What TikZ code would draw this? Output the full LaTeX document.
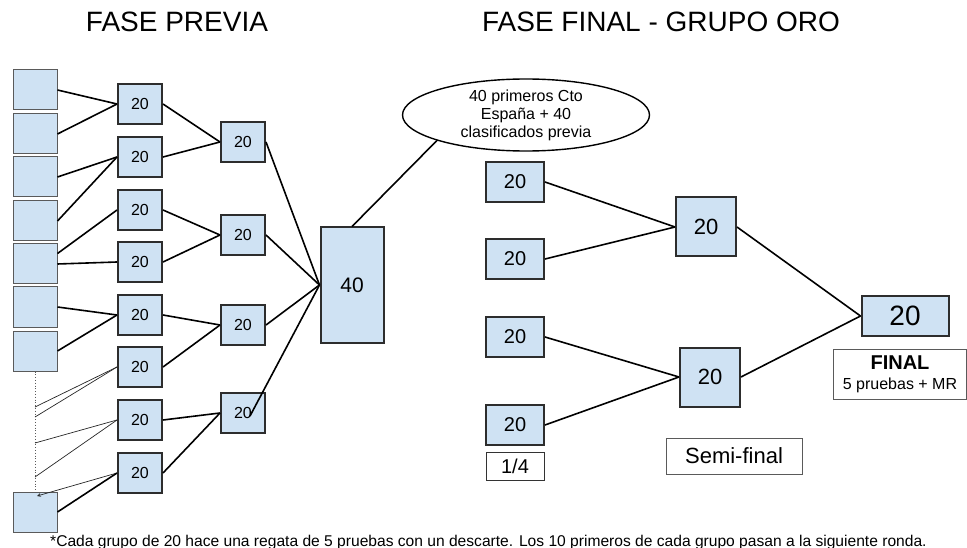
\documentclass[tikz,border=0pt]{standalone}
\usepackage{fontspec}
\setmainfont{Liberation Sans}
\usetikzlibrary{arrows, positioning, shapes.geometric}
\definecolor{myblue}{RGB}{207, 226, 243}
\definecolor{myline}{RGB}{45, 45, 45}
\definecolor{mygray}{RGB}{90, 90, 90}

\begin{document}
\begin{tikzpicture}[
    x=1pt, y=-1pt,
    seat/.style={rectangle, draw=mygray, fill=myblue, line width=1pt, minimum width=44pt, minimum height=40pt, inner sep=0pt},
    grp/.style={rectangle, draw=myline, fill=myblue, line width=2pt, minimum width=44pt, minimum height=40pt, inner sep=0pt, font=\fontsize{16}{16}\selectfont},
    quarter/.style={grp, minimum width=58pt, minimum height=40pt, font=\fontsize{20}{20}\selectfont},
    semi/.style={grp, minimum width=60pt, minimum height=59pt, font=\fontsize{22}{22}\selectfont},
    tag/.style={rectangle, draw=black!80, fill=white, line width=0.9pt, inner sep=0pt, text centered},
    conn/.style={line width=1.6pt, black},
    thin/.style={line width=0.7pt, black!85},
    title/.style={anchor=base, font=\fontsize{28}{28}\selectfont}
]
\useasboundingbox (0,0) rectangle (967,548);

% Titles
\node[title] (tprevia) at (177,32) {FASE PREVIA};
\node[title] (tfinal) at (661,32) {FASE FINAL - GRUPO ORO};

% Fase previa: entries
\node[seat] (l1) at (35,90) {};
\node[seat] (l2) at (35,134) {};
\node[seat] (l3) at (35,177) {};
\node[seat] (l4) at (35,221) {};
\node[seat] (l5) at (35,264) {};
\node[seat] (l6) at (35,307) {};
\node[seat] (l7) at (35,351) {};
\node[seat] (l8) at (35,512) {};
\draw[dotted, mygray, line width=0.8pt] (l7.south) -- (l8.north);
\coordinate (p1) at (35,407);
\coordinate (p2) at (35,417);
\coordinate (p3) at (35,443);
\coordinate (p4) at (35,477);
\coordinate (p5) at (37,496);

% Fase previa: first groups
\node[grp] (g1) at (140,104) {20};
\node[grp] (g2) at (140,157) {20};
\node[grp] (g3) at (140,210) {20};
\node[grp] (g4) at (140,262) {20};
\node[grp] (g5) at (140,315) {20};
\node[grp] (g6) at (140,367) {20};
\node[grp] (g7) at (140,420) {20};
\node[grp] (g8) at (140,473) {20};

% Fase previa: second groups
\node[grp] (r1) at (243,142) {20};
\node[grp] (r2) at (243,235) {20};
\node[grp] (r3) at (243,325) {20};
\node[grp] (r4) at (243,413) {20};
\coordinate (r4end) at (250,416);

% Qualified
\node[grp, minimum width=63pt, minimum height=115pt, font=\fontsize{21}{21}\selectfont] (cuarenta) at (352,285) {40};
\node[ellipse, draw=black, line width=1.4pt, minimum width=247pt, minimum height=68pt, inner sep=0pt, align=center, font=\fontsize{16}{18}\selectfont] (nota) at (526,115) {40 primeros Cto\\España + 40\\clasificados previa};

% Fase final
\node[quarter] (q1) at (515,182) {20};
\node[quarter] (q2) at (515,259) {20};
\node[quarter] (q3) at (515,337) {20};
\node[quarter] (q4) at (515,425) {20};
\node[semi] (s1) at (706,227) {20};
\node[semi] (s2) at (710,377) {20};
\node[grp, minimum width=87pt, minimum height=40pt, font=\fontsize{28}{28}\selectfont] (fin) at (905,316) {20};

% Round labels
\node[tag, below=6pt of q4, minimum width=58pt, minimum height=28pt, font=\fontsize{20}{20}\selectfont] (cuartos) {1/4};
\node[tag, draw=mygray, minimum width=136pt, minimum height=36pt, font=\fontsize{22}{22}\selectfont] (semifinal) at (734,456) {Semi-final};
\node[tag, draw=mygray, below=12pt of fin, xshift=-5pt, minimum width=133pt, minimum height=50pt, align=center, font=\fontsize{16}{20}\selectfont] (final) {{\fontsize{20}{20}\selectfont\bfseries FINAL}\\5 pruebas + MR};

% Footnote
\node[anchor=base west, inner sep=0pt, font=\fontsize{15.6}{15.6}\selectfont] (pie) at (50,546) {*Cada grupo de 20 hace una regata de 5 pruebas con un descarte. Los 10 primeros de cada grupo pasan a la siguiente ronda.};

% Lines: entries to first groups
\draw[conn] (l1.east) -- (g1.west);
\draw[conn] (l2.east) -- (g1.west);
\draw[conn] (l3.east) -- (g2.west);
\draw[conn] (l4.east) -- (g2.west);
\draw[conn] (l5.25) -- (g3.west);
\draw[conn] (l5.east) -- (g4.west);
\draw[conn] (l6.east) -- (g5.west);
\draw[conn] (l7.east) -- (g5.west);
\draw[thin] (g6.west) -- (p1);
\draw[thin] (g6.west) -- (p2);
\draw[thin] (g7.west) -- (p3);
\draw[thin] (g7.west) -- (p4);
\draw[thin, ->, >=stealth] (g8.west) -- (p5);
\draw[conn] (l8.east) -- (g8.west);

% Lines: first to second groups
\draw[conn] (g1.east) -- (r1.west);
\draw[conn] (g2.east) -- (r1.west);
\draw[conn] (g3.east) -- (r2.west);
\draw[conn] (g4.east) -- (r2.west);
\draw[conn] (g5.east) -- (r3.west);
\draw[conn] (g6.east) -- (r3.west);
\draw[conn] (g7.east) -- (r4.west);
\draw[conn] (g8.east) -- (r4.west);

% Lines: second groups to 40
\draw[conn] (r1.east) -- (cuarenta.west);
\draw[conn] (r2.east) -- (cuarenta.west);
\draw[conn] (r3.east) -- (cuarenta.west);
\draw[conn] (cuarenta.west) -- (r4end);
\draw[conn] (cuarenta.north) -- (nota.196);

% Lines: fase final
\draw[conn] (q1.east) -- (s1.west);
\draw[conn] (q2.east) -- (s1.west);
\draw[conn] (q3.east) -- (s2.west);
\draw[conn] (q4.east) -- (s2.west);
\draw[conn] (s1.east) -- (fin.west);
\draw[conn] (s2.east) -- (fin.west);

\end{tikzpicture}
\end{document}
